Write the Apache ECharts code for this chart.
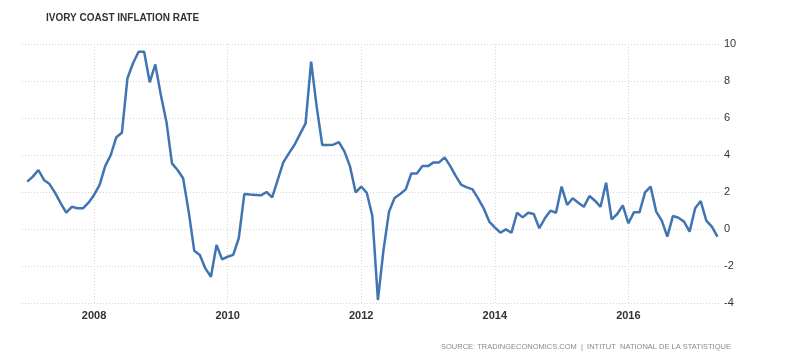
<!DOCTYPE html>
<html><head><meta charset="utf-8">
<script src="https://cdn.jsdelivr.net/npm/echarts@6/dist/echarts.min.js"></script>
<style>html,body{margin:0;padding:0;background:#fff}#c{width:800px;height:361px}</style>
</head><body><div id="c"></div>
<script>
// Monthly inflation rate, Jan 2007 .. May 2017
const startYear = 2007;
const values = [
  // 2007
  2.56, 2.83, 3.19, 2.65, 2.43, 1.95, 1.4, 0.88, 1.2, 1.12, 1.12, 1.42,
  // 2008
  1.84, 2.38, 3.4, 4.0, 4.96, 5.2, 8.15, 8.96, 9.58, 9.58, 7.93, 8.9,
  // 2009
  7.24, 5.8, 3.55, 3.19, 2.74, 0.94, -1.17, -1.4, -2.13, -2.58, -0.86, -1.64,
  // 2010
  -1.5, -1.4, -0.5, 1.89, 1.86, 1.84, 1.82, 2.0, 1.71, 2.65, 3.6, 4.09,
  // 2011
  4.54, 5.13, 5.71, 9.05, 6.6, 4.54, 4.54, 4.56, 4.7, 4.18, 3.37, 1.98,
  // 2012
  2.29, 1.96, 0.7, -3.84, -1.14, 0.94, 1.68, 1.89, 2.14, 3.0, 3.0, 3.4,
  // 2013
  3.4, 3.6, 3.6, 3.87, 3.4, 2.86, 2.38, 2.25, 2.14, 1.66, 1.12, 0.4,
  // 2014
  0.09, -0.2, -0.02, -0.2, 0.88, 0.63, 0.88, 0.81, 0.04, 0.58, 0.99, 0.88,
  // 2015
  2.29, 1.3, 1.66, 1.42, 1.2, 1.78, 1.53, 1.2, 2.5, 0.52, 0.81, 1.28,
  // 2016
  0.31, 0.9, 0.9, 1.98, 2.29, 0.94, 0.45, -0.41, 0.7, 0.61, 0.4, -0.14,
  // 2017
  1.12, 1.51, 0.45, 0.13, -0.41
];
const xTicks = [2008, 2010, 2012, 2014, 2016];
const yTicks = [-4, -2, 0, 2, 4, 6, 8, 10];
const titleText = 'IVORY COAST INFLATION RATE';
const sourceText = 'SOURCE: TRADINGECONOMICS.COM  |  INTITUT  NATIONAL DE LA STATISTIQUE';

const seriesData = values.map((v, i) => [startYear + i / 12, v]);

const chart = echarts.init(document.getElementById('c'), null, {renderer: 'canvas'});
chart.setOption({
  animation: false,
  backgroundColor: '#fff',
  title: [
    {text: titleText, left: 46, top: 13, padding: 0,
     textStyle: {fontFamily: 'Liberation Sans, sans-serif', fontSize: 10, fontWeight: 'bold', color: '#333'}},
    {text: sourceText, left: 441, top: 343, padding: 0,
     textStyle: {fontFamily: 'Liberation Sans, sans-serif', fontSize: 7.5, fontWeight: 'normal', color: '#8a8a8a'}}
  ],
  grid: {left: 22, right: 80, top: 44, bottom: 58, containLabel: false},
  xAxis: {
    type: 'value', min: 2006.921, max: 2017.372,
    axisLine: {show: false},
    axisTick: {show: false, customValues: xTicks},
    axisLabel: {customValues: xTicks, margin: 7, color: '#333', fontWeight: 'bold', fontSize: 11,
      fontFamily: 'Liberation Sans, sans-serif', formatter: v => String(Math.round(v))},
    splitLine: {show: true, lineStyle: {color: '#d6d6d6', type: [1, 2], width: 1}}
  },
  yAxis: {
    type: 'value', position: 'right', min: -4, max: 10, interval: 2,
    axisLine: {show: false}, axisTick: {show: false},
    axisLabel: {margin: 4, color: '#333', fontSize: 11, fontFamily: 'Liberation Sans, sans-serif'},
    splitLine: {show: true, lineStyle: {color: '#d6d6d6', type: [1, 2], width: 1}}
  },
  series: [{
    type: 'line', data: seriesData, showSymbol: false, symbol: 'none',
    lineStyle: {color: '#4074b2', width: 2.5}, itemStyle: {color: '#4074b2'}
  }]
});
</script></body></html>
